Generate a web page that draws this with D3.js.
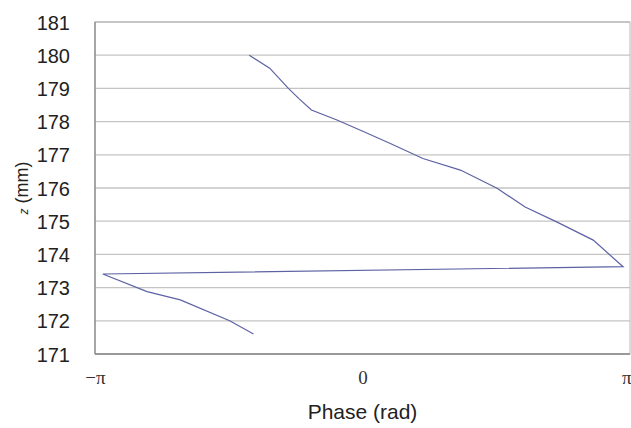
<!DOCTYPE html>
<html>
<head>
<meta charset="utf-8">
<script src="https://cdn.jsdelivr.net/npm/d3@7"></script>
<style>
	body { margin: 0; background: #fff; }
	svg { display: block; }
</style>
</head>
<body>
<script>
// phase (rad) and z (mm), top to bottom
const phase = [-1.33, -1.09, -0.87, -0.75, -0.60, -0.30, 0.01, 0.32, 0.71, 1.15,
	1.58, 1.91, 2.28, 2.71, 3.06, -3.05, -2.53, -2.14, -1.56, -1.28];
const zmm = [180.0, 179.61, 179.0, 178.7, 178.35, 178.05, 177.7, 177.35, 176.89, 176.54,
	175.99, 175.43, 174.98, 174.43, 173.63, 173.41, 172.88, 172.63, 172.0, 171.6];
const yTicks = [171, 172, 173, 174, 175, 176, 177, 178, 179, 180, 181];
const xTicks = [-Math.PI, 0, Math.PI];
const xTickLabels = ["\u2212\u03c0", "0", "\u03c0"];

const width = 631, height = 428;
const pLeft = 95, pRight = 630, pTop = 22, pBottom = 354;

const svg = d3.select("body").append("svg")
	.attr("width", width).attr("height", height);

const x = d3.scaleLinear().domain([-Math.PI, Math.PI]).range([pLeft, pRight]);
const y = d3.scaleLinear().domain([171, 181]).range([pBottom, pTop]);

// grid lines
svg.append("g")
	.selectAll("line")
	.data(yTicks)
	.enter()
	.append("line")
	.attr("x1", pLeft).attr("x2", pRight)
	.attr("y1", d => y(d)).attr("y2", d => y(d))
	.attr("stroke", "#c4c4c4")
	.attr("stroke-width", 1.3);

// frame
svg.append("rect")
	.attr("x", pLeft).attr("y", pTop)
	.attr("width", pRight - pLeft).attr("height", pBottom - pTop)
	.attr("fill", "none")
	.attr("stroke", "#b8b8b8")
	.attr("stroke-width", 1);
svg.append("line")
	.attr("x1", pLeft).attr("x2", pLeft).attr("y1", pTop).attr("y2", pBottom)
	.attr("stroke", "#8a8a8a").attr("stroke-width", 1.3);
svg.append("line")
	.attr("x1", pLeft).attr("x2", pRight).attr("y1", pBottom).attr("y2", pBottom)
	.attr("stroke", "#8a8a8a").attr("stroke-width", 1.3);

// y tick labels
const yAxis = d3.axisLeft(y).tickValues(yTicks).tickSize(0).tickPadding(0);
const gy = svg.append("g")
	.attr("transform", "translate(" + (pLeft - 25) + ",0)")
	.call(yAxis);
gy.select(".domain").remove();
gy.selectAll("text")
	.attr("font-family", "Liberation Sans, Arial, sans-serif")
	.attr("font-size", 20)
	.attr("fill", "#222")
	.attr("dy", "0.35em");

// x tick labels
const xAxis = d3.axisBottom(x).tickValues(xTicks).tickSize(0).tickPadding(0)
	.tickFormat((d, i) => xTickLabels[i]);
const gx = svg.append("g")
	.attr("transform", "translate(0," + (pBottom + 23) + ")")
	.call(xAxis);
gx.select(".domain").remove();
gx.selectAll("text")
	.attr("font-family", "Liberation Serif, Times New Roman, serif")
	.attr("font-size", 19)
	.attr("fill", "#333")
	.attr("dy", "0.35em")
	.attr("text-anchor", (d, i) => i === xTicks.length - 1 ? "end" : "middle")
	.attr("x", (d, i) => i === xTicks.length - 1 ? 1 : 0);

// axis titles
svg.append("text")
	.attr("x", x(0))
	.attr("y", 419)
	.attr("text-anchor", "middle")
	.attr("font-family", "Liberation Sans, Arial, sans-serif")
	.attr("font-size", 21)
	.attr("fill", "#222")
	.text("Phase (rad)");

const yt = svg.append("text")
	.attr("transform", "translate(28,188) rotate(-90)")
	.attr("text-anchor", "middle")
	.attr("font-family", "Liberation Sans, Arial, sans-serif")
	.attr("font-size", 18)
	.attr("fill", "#222");
yt.append("tspan").attr("font-style", "italic").attr("font-size", 12).text("z");
yt.append("tspan").text(" (mm)");

// data line
const pts = phase.map((p, i) => [p, zmm[i]]);
svg.append("path")
	.datum(pts)
	.attr("fill", "none")
	.attr("stroke", "#5d62a4")
	.attr("stroke-width", 1.2)
	.attr("d", d3.line().x(d => x(d[0])).y(d => y(d[1])));
</script>
</body>
</html>
